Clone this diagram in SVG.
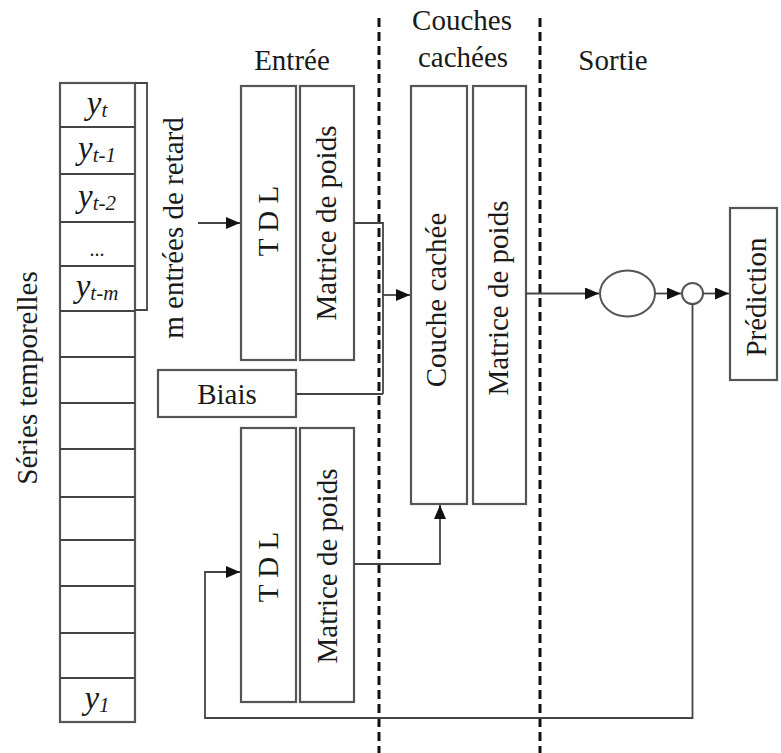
<svg xmlns="http://www.w3.org/2000/svg" width="781" height="753" viewBox="0 0 781 753">
<defs>
<marker id="ah" viewBox="0 0 14 12" refX="14" refY="6" markerWidth="14" markerHeight="12" markerUnits="userSpaceOnUse" orient="auto">
<path d="M0,0 L14,6 L0,12 Z" fill="#111"/>
</marker>
<style>
.box{fill:#fff;stroke:#555;stroke-width:2.2}
.ln{fill:none;stroke:#444;stroke-width:1.8}
.dash{fill:none;stroke:#111;stroke-width:3;stroke-dasharray:9 5}
.t{font-family:"Liberation Serif","Times New Roman",serif;font-size:29px;fill:#1a1a1a}
.v{text-anchor:middle;dominant-baseline:central}
.h{text-anchor:middle}
.y{font-family:"Liberation Serif","Times New Roman",serif;font-style:italic;fill:#1a1a1a;font-size:33px}
.s{font-size:21px}
</style>
</defs>
<rect width="781" height="753" fill="#fff"/>

<g id="dividers">
<line class="dash" x1="379" y1="18" x2="379" y2="753"/>
<line class="dash" x1="540" y1="18" x2="540" y2="753"/>
</g>

<g id="headers">
<text class="t h" x="292" y="70">Entrée</text>
<text class="t h" x="462" y="30">Couches</text>
<text class="t h" x="463" y="67">cachées</text>
<text class="t h" x="613" y="70">Sortie</text>
</g>

<g id="series">
<rect class="box" x="60" y="83" width="75" height="639"/>
<path class="ln" d="M60,127H135M60,174H135M60,222H135M60,266H135M60,311H135M60,357H135M60,403H135M60,449H135M60,497H135M60,540H135M60,586H135M60,633H135M60,678H135"/>
<text class="y" x="97" y="114" text-anchor="middle">y<tspan class="s" dy="3">t</tspan></text>
<text class="y" x="97" y="159" text-anchor="middle">y<tspan class="s" dy="3">t-1</tspan></text>
<text class="y" x="97" y="207" text-anchor="middle">y<tspan class="s" dy="3">t-2</tspan></text>
<text class="t h" x="97" y="256" style="font-size:20px">...</text>
<text class="y" x="97" y="297" text-anchor="middle">y<tspan class="s" dy="3">t-m</tspan></text>
<text class="y" x="97" y="709" text-anchor="middle">y<tspan class="s" dy="3">1</tspan></text>
<text class="t v" transform="translate(27,378) rotate(-90)">Séries temporelles</text>
</g>

<g id="bracket">
<path class="ln" d="M135,83H147V310H135"/>
<text class="t v" transform="translate(173,228) rotate(-90)">m entrées de retard</text>
</g>

<g id="tdl1">
<rect class="box" x="241" y="86" width="55" height="274"/>
<text class="t v" transform="translate(268,221) rotate(-90)">T D L</text>
</g>
<g id="matrice1">
<rect class="box" x="300" y="86" width="54" height="274"/>
<text class="t v" transform="translate(326,223) rotate(-90)">Matrice de poids</text>
</g>
<g id="biais">
<rect class="box" x="158" y="370" width="138" height="47"/>
<text class="t h" x="227" y="404">Biais</text>
</g>
<g id="tdl2">
<rect class="box" x="241" y="428" width="55" height="274"/>
<text class="t v" transform="translate(268,567) rotate(-90)">T D L</text>
</g>
<g id="matrice2">
<rect class="box" x="300" y="428" width="54" height="274"/>
<text class="t v" transform="translate(327,566) rotate(-90)">Matrice de poids</text>
</g>
<g id="couche">
<rect class="box" x="411" y="86" width="56" height="418"/>
<text class="t v" transform="translate(436,300) rotate(-90)">Couche cachée</text>
</g>
<g id="matrice3">
<rect class="box" x="473" y="86" width="53" height="418"/>
<text class="t v" transform="translate(498,298) rotate(-90)">Matrice de poids</text>
</g>
<g id="neurone">
<ellipse cx="627.5" cy="293.5" rx="27.5" ry="23" fill="#fff" stroke="#555" stroke-width="2"/>
</g>
<g id="somme">
<circle cx="692.5" cy="293.5" r="10.5" fill="#fff" stroke="#555" stroke-width="2"/>
</g>
<g id="prediction">
<rect class="box" x="730" y="208" width="47" height="172"/>
<text class="t v" transform="translate(756,297) rotate(-90)">Prédiction</text>
</g>

<g id="connectors">
<path class="ln" d="M198,223H240" marker-end="url(#ah)"/>
<path class="ln" d="M354,223H383V394"/>
<path class="ln" d="M296,394H383"/>
<path class="ln" d="M383,295H410" marker-end="url(#ah)"/>
<path class="ln" d="M354,564H440V505" marker-end="url(#ah)"/>
<path class="ln" d="M526,293.5H599" marker-end="url(#ah)"/>
<path class="ln" d="M655,293.5H681" marker-end="url(#ah)"/>
<path class="ln" d="M703,293.5H729" marker-end="url(#ah)"/>
<path class="ln" d="M692.5,304V718H205V572H240" marker-end="url(#ah)"/>
</g>
</svg>
